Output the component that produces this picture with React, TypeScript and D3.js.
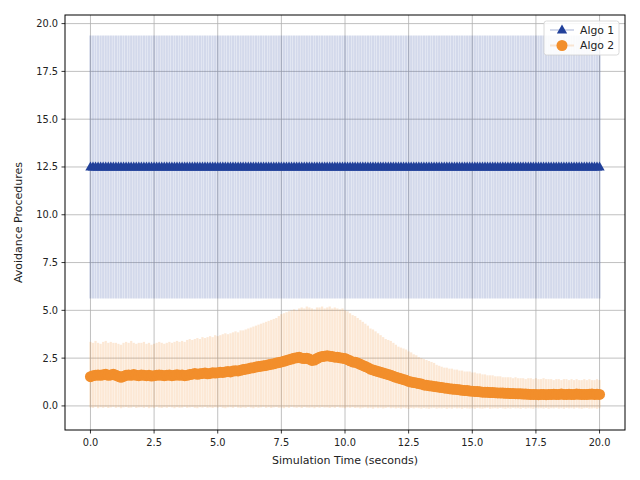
import React from "react";
import * as d3 from "d3";

const TIME_STEP = 0.1;
const N_POINTS = 201;
const TIMES = d3.range(N_POINTS).map((i) => +(i * TIME_STEP).toFixed(1));

const ALGO1_MEAN = 12.5;
const ALGO1_LOW = 5.62;
const ALGO1_HIGH = 19.38;

const ALGO2_MEAN = [
  1.53,1.58,1.6,1.62,1.6,1.63,1.65,1.6,1.62,1.66,
  1.6,1.55,1.5,1.55,1.6,1.62,1.6,1.64,1.6,1.58,
  1.62,1.6,1.58,1.6,1.56,1.58,1.6,1.62,1.6,1.58,
  1.6,1.62,1.58,1.6,1.63,1.6,1.62,1.58,1.6,1.64,
  1.66,1.7,1.65,1.68,1.7,1.72,1.68,1.7,1.74,1.72,
  1.74,1.76,1.75,1.78,1.8,1.78,1.82,1.84,1.83,1.86,
  1.9,1.92,1.95,1.98,2.0,2.03,2.06,2.08,2.1,2.12,
  2.15,2.18,2.2,2.24,2.27,2.3,2.33,2.38,2.42,2.45,
  2.5,2.52,2.55,2.5,2.48,2.5,2.45,2.38,2.4,2.48,
  2.55,2.58,2.6,2.62,2.6,2.58,2.55,2.55,2.52,2.5,
  2.48,2.42,2.36,2.3,2.28,2.24,2.18,2.12,2.06,2.0,
  1.92,1.88,1.84,1.8,1.76,1.72,1.68,1.64,1.6,1.55,
  1.5,1.46,1.42,1.38,1.34,1.28,1.25,1.22,1.2,1.17,
  1.14,1.1,1.08,1.06,1.04,1.02,1.0,0.98,0.96,0.94,
  0.92,0.9,0.88,0.87,0.86,0.84,0.82,0.81,0.8,0.78,
  0.77,0.76,0.75,0.74,0.72,0.72,0.71,0.7,0.7,0.69,
  0.68,0.68,0.67,0.66,0.66,0.65,0.65,0.64,0.63,0.63,
  0.62,0.62,0.61,0.6,0.6,0.6,0.59,0.6,0.6,0.59,
  0.6,0.6,0.61,0.6,0.6,0.62,0.6,0.6,0.61,0.6,
  0.6,0.62,0.61,0.6,0.6,0.6,0.61,0.62,0.6,0.61,
  0.6,
];

const ALGO2_HIGH = [
  3.35,3.3,3.4,3.3,3.25,3.35,3.4,3.3,3.35,3.3,
  3.3,3.25,3.2,3.3,3.35,3.3,3.4,3.3,3.25,3.3,
  3.3,3.35,3.25,3.3,3.2,3.25,3.3,3.35,3.3,3.25,
  3.3,3.35,3.3,3.35,3.4,3.35,3.4,3.35,3.45,3.5,
  3.45,3.5,3.55,3.5,3.6,3.55,3.6,3.65,3.6,3.7,
  3.65,3.7,3.75,3.8,3.75,3.8,3.85,3.9,3.85,3.95,
  3.95,4.0,4.05,4.1,4.15,4.2,4.25,4.3,4.35,4.4,
  4.45,4.5,4.55,4.6,4.7,4.8,4.85,4.9,4.95,5.0,
  5.05,5.0,5.1,5.15,5.1,5.2,5.15,5.1,5.05,5.15,
  5.15,5.2,5.1,5.15,5.2,5.1,5.15,5.1,5.05,5.1,
  5.0,4.95,4.85,4.75,4.7,4.6,4.5,4.4,4.3,4.2,
  4.05,4.0,3.9,3.8,3.7,3.6,3.5,3.45,3.4,3.3,
  3.2,3.1,3.05,3.0,2.95,2.85,2.8,2.7,2.65,2.55,
  2.5,2.45,2.4,2.35,2.3,2.25,2.15,2.1,2.05,2.0,
  2.0,1.95,1.95,1.9,1.9,1.85,1.85,1.8,1.8,1.8,
  1.75,1.75,1.7,1.7,1.65,1.65,1.6,1.6,1.6,1.55,
  1.55,1.55,1.5,1.5,1.5,1.5,1.45,1.5,1.45,1.45,
  1.45,1.4,1.45,1.45,1.4,1.45,1.4,1.4,1.45,1.4,
  1.4,1.4,1.35,1.4,1.4,1.35,1.4,1.4,1.35,1.4,
  1.35,1.4,1.35,1.35,1.4,1.35,1.4,1.35,1.35,1.4,
  1.35,
];

const ALGO2_LOW = [
  -0.08,-0.1,-0.05,-0.12,-0.07,-0.1,-0.06,-0.11,-0.08,-0.05,
  -0.1,-0.07,-0.12,-0.08,-0.06,-0.1,-0.09,-0.05,-0.11,-0.08,
  -0.07,-0.1,-0.06,-0.12,-0.08,-0.1,-0.05,-0.09,-0.11,-0.07,
  -0.1,-0.06,-0.08,-0.12,-0.07,-0.1,-0.09,-0.05,-0.1,-0.08,
  -0.06,-0.1,-0.12,-0.07,-0.09,-0.05,-0.1,-0.08,-0.11,-0.07,
  -0.09,-0.06,-0.1,-0.12,-0.08,-0.07,-0.1,-0.05,-0.09,-0.11,
  -0.08,-0.1,-0.06,-0.09,-0.12,-0.07,-0.1,-0.08,-0.05,-0.1,
  -0.07,-0.11,-0.08,-0.06,-0.1,-0.09,-0.12,-0.07,-0.1,-0.05,
  -0.08,-0.1,-0.07,-0.11,-0.06,-0.09,-0.1,-0.08,-0.12,-0.07,
  -0.1,-0.06,-0.09,-0.08,-0.11,-0.07,-0.1,-0.05,-0.09,-0.1,
  -0.12,-0.08,-0.1,-0.07,-0.11,-0.09,-0.13,-0.1,-0.08,-0.12,
  -0.1,-0.14,-0.09,-0.12,-0.1,-0.13,-0.11,-0.08,-0.12,-0.1,
  -0.13,-0.11,-0.14,-0.1,-0.12,-0.15,-0.11,-0.13,-0.1,-0.12,
  -0.14,-0.11,-0.13,-0.15,-0.12,-0.1,-0.14,-0.12,-0.13,-0.11,
  -0.15,-0.12,-0.14,-0.1,-0.13,-0.12,-0.15,-0.11,-0.13,-0.14,
  -0.12,-0.15,-0.11,-0.13,-0.14,-0.12,-0.1,-0.15,-0.13,-0.12,
  -0.14,-0.11,-0.13,-0.15,-0.12,-0.14,-0.1,-0.13,-0.12,-0.15,
  -0.11,-0.14,-0.12,-0.13,-0.15,-0.1,-0.13,-0.12,-0.14,-0.11,
  -0.15,-0.12,-0.13,-0.1,-0.14,-0.12,-0.15,-0.11,-0.13,-0.12,
  -0.14,-0.1,-0.13,-0.15,-0.12,-0.11,-0.14,-0.13,-0.12,-0.15,
  -0.12,
];

const X_TICKS = [0, 2.5, 5, 7.5, 10, 12.5, 15, 17.5, 20];
const Y_TICKS = [0, 2.5, 5, 7.5, 10, 12.5, 15, 17.5, 20];
const SERIES_NAMES = ["Algo 1", "Algo 2"];
const X_LABEL = "Simulation Time (seconds)";
const Y_LABEL = "Avoidance Procedures";

const BLUE = "#21409a";
const ORANGE = "#f28e2b";
const FONT = "DejaVu Sans, sans-serif";

export default function App() {
  const W = 640, H = 480;
  const left = 65, right = 625, top = 15, bottom = 430;
  const x = d3.scaleLinear().domain([-1, 21]).range([left, right]);
  const y = d3.scaleLinear().domain([-1.26, 20.45]).range([bottom, top]);

  const tri = d3.symbol().type(d3.symbolTriangle).size(46)();
  const r = 5.5;
  const ebW = 2.2;
  const ebO = 0.2;

  return (
    <svg
      width={W}
      height={H}
      style={{ position: "absolute", left: 0, top: 0, background: "#fff" }}
      fontFamily={FONT}
    >
      <rect x={0} y={0} width={W} height={H} fill="#fff" />
      <defs>
        <clipPath id="plot">
          <rect x={left} y={top} width={right - left} height={bottom - top} />
        </clipPath>
      </defs>
      {/* grid */}
      <g stroke="#b0b0b0" strokeWidth={0.8}>
        {X_TICKS.map((t) => (
          <line key={"gx" + t} x1={x(t)} x2={x(t)} y1={top} y2={bottom} />
        ))}
        {Y_TICKS.map((t) => (
          <line key={"gy" + t} x1={left} x2={right} y1={y(t)} y2={y(t)} />
        ))}
      </g>
      <g clipPath="url(#plot)">
        {/* Algo 1 error bars */}
        <g stroke={BLUE} strokeOpacity={ebO} strokeWidth={ebW}>
          {TIMES.map((t, i) => (
            <line key={"e1" + i} x1={x(t)} x2={x(t)} y1={y(ALGO1_LOW)} y2={y(ALGO1_HIGH)} />
          ))}
        </g>
        <g fill={BLUE}>
          {TIMES.map((t, i) => (
            <path key={"m1" + i} d={tri as string} transform={`translate(${x(t)},${y(ALGO1_MEAN) + 0.5})`} />
          ))}
        </g>
        {/* Algo 2 error bars */}
        <g stroke={ORANGE} strokeOpacity={ebO} strokeWidth={ebW}>
          {TIMES.map((t, i) => (
            <line key={"e2" + i} x1={x(t)} x2={x(t)} y1={y(ALGO2_LOW[i])} y2={y(ALGO2_HIGH[i])} />
          ))}
        </g>
        <g fill={ORANGE}>
          {TIMES.map((t, i) => (
            <circle key={"m2" + i} cx={x(t)} cy={y(ALGO2_MEAN[i])} r={r} />
          ))}
        </g>
      </g>
      {/* frame */}
      <rect x={left} y={top} width={right - left} height={bottom - top} fill="none" stroke="#000" strokeWidth={1} />
      {/* ticks */}
      <g fontSize={9.8} fill="#222">
        {X_TICKS.map((t) => (
          <g key={"xt" + t}>
            <line x1={x(t)} x2={x(t)} y1={bottom} y2={bottom + 3.5} stroke="#000" strokeWidth={0.8} />
            <text x={x(t)} y={bottom + 16} textAnchor="middle">{t.toFixed(1)}</text>
          </g>
        ))}
        {Y_TICKS.map((t) => (
          <g key={"yt" + t}>
            <line x1={left - 3.5} x2={left} y1={y(t)} y2={y(t)} stroke="#000" strokeWidth={0.8} />
            <text x={left - 7} y={y(t)} dy="0.35em" textAnchor="end">{t.toFixed(1)}</text>
          </g>
        ))}
      </g>
      <text x={(left + right) / 2} y={464} textAnchor="middle" fontSize={11} fill="#222">{X_LABEL}</text>
      <text
        transform={`translate(22,${(top + bottom) / 2}) rotate(-90)`}
        textAnchor="middle"
        fontSize={11}
        fill="#222"
      >
        {Y_LABEL}
      </text>
      {/* legend */}
      <g>
        <rect x={544} y={21} width={75} height={34} rx={2.5} fill="#fff" fillOpacity={0.85} stroke="#d0d0d0" strokeWidth={0.8} />
        {SERIES_NAMES.map((name, i) => {
          const cy = 30 + i * 15.5;
          const col = i === 0 ? BLUE : ORANGE;
          return (
            <g key={name}>
              <line x1={550} x2={574} y1={cy} y2={cy} stroke={col} strokeOpacity={0.2} strokeWidth={2} />
              {i === 0 ? (
                <path d={tri as string} transform={`translate(562,${cy + 0.5})`} fill={col} />
              ) : (
                <circle cx={562} cy={cy} r={r} fill={col} />
              )}
              <text x={580} y={cy} dy="0.35em" fontSize={10.8} fill="#222">{name}</text>
            </g>
          );
        })}
      </g>
    </svg>
  );
}
